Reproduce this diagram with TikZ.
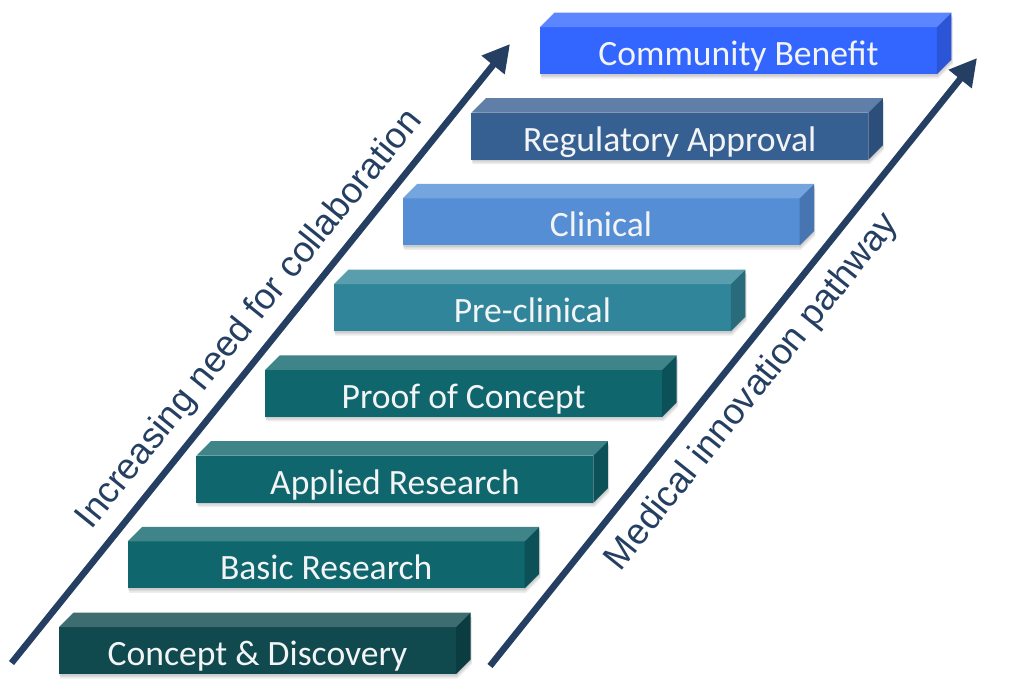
\documentclass[tikz,border=0pt]{standalone}
\usepackage{fontspec}
\newfontfamily\barfont{Carlito}
\newfontfamily\arrfont{Liberation Sans}
\usetikzlibrary{arrows.meta}
\definecolor{cAf}{HTML}{104A4F}\definecolor{cAt}{HTML}{3E6D71}\definecolor{cAs}{HTML}{0B3C41}
\definecolor{cBf}{HTML}{10666D}\definecolor{cBt}{HTML}{3E8489}\definecolor{cBs}{HTML}{0B5157}
\definecolor{cCf}{HTML}{31859B}\definecolor{cCt}{HTML}{5A9EAD}\definecolor{cCs}{HTML}{286C7C}
\definecolor{cDf}{HTML}{558ED5}\definecolor{cDt}{HTML}{75A5DE}\definecolor{cDs}{HTML}{4775B1}
\definecolor{cEf}{HTML}{376092}\definecolor{cEt}{HTML}{5F7FA8}\definecolor{cEs}{HTML}{2C4E7A}
\definecolor{cFf}{HTML}{3366FF}\definecolor{cFt}{HTML}{5C86FF}\definecolor{cFs}{HTML}{2B55D6}
\definecolor{arrowBlue}{HTML}{253F62}
\definecolor{barText}{HTML}{F2F4F5}
\begin{document}
\begin{tikzpicture}[x=1pt,y=-1pt,
  barface/.style={minimum width=397pt, minimum height=47pt, inner sep=0pt, outer sep=0pt, draw=none},
  barlabel/.style={font=\barfont\fontsize{35.6}{40}\selectfont, text=barText, anchor=base, inner sep=0pt},
  shadowfill/.style={fill=black, opacity=0.07},
  arrowline/.style={line width=6.5pt, draw=arrowBlue, -{Triangle[length=27pt,width=28pt]}},
  arrowlabel/.style={font=\arrfont\fontsize{36.3}{40}\selectfont, text=arrowBlue, anchor=base, inner sep=0pt}]
\useasboundingbox (0,0) rectangle (1024,689);
\fill[white] (0,0) rectangle (1024,689);
\foreach \i/\fc/\tc/\sc/\txt in {0/cAf/cAt/cAs/{Concept \& Discovery},
  1/cBf/cBt/cBs/{Basic Research},
  2/cBf/cBt/cBs/{Applied Research},
  3/cBf/cBt/cBs/{Proof of Concept},
  4/cCf/cCt/cCs/{Pre-clinical},
  5/cDf/cDt/cDs/{Clinical},
  6/cEf/cEt/cEs/{Regulatory Approval},
  7/cFf/cFt/cFs/{Community Benefit}}{
  % soft shadow
  \foreach \s in {1.5,3,4.5}{
    \fill[shadowfill, shift={(0.3*\s,\s)}] ({59+68.71*\i},{627-85.71*\i}) -- ++(14.5,-14.5) -- ++(397,0) -- ++(0,47) -- ++(-14.5,14.5) -- ++(-397,0) -- cycle;
  }
  \node[barface, fill=\fc] (bar\i) at ({257.5+68.71*\i},{650.5-85.71*\i}) {};
  \fill[\tc] (bar\i.north west) -- ++(14.5,-14.5) -- ++(397,0) -- (bar\i.north east) -- cycle;
  \fill[\sc] (bar\i.north east) -- ++(14.5,-14.5) -- ++(0,47) -- (bar\i.south east) -- cycle;
  \node[barlabel] (lbl\i) at ([yshift=8.5pt]bar\i.south) {\txt};
}
\coordinate (lt) at (11.5,663);
\coordinate (lh) at (510,44);
\coordinate (rt) at (490,666);
\coordinate (rh) at (977,58);
\draw[arrowline] (lt) -- (lh);
\draw[arrowline] (rt) -- (rh);
\node[arrowlabel, rotate=51.04] (labL) at (257.5,325.5) {Increasing need for collaboration};
\node[arrowlabel, rotate=51.3] (labR) at (760,398) {Medical innovation pathway};
\end{tikzpicture}
\end{document}
